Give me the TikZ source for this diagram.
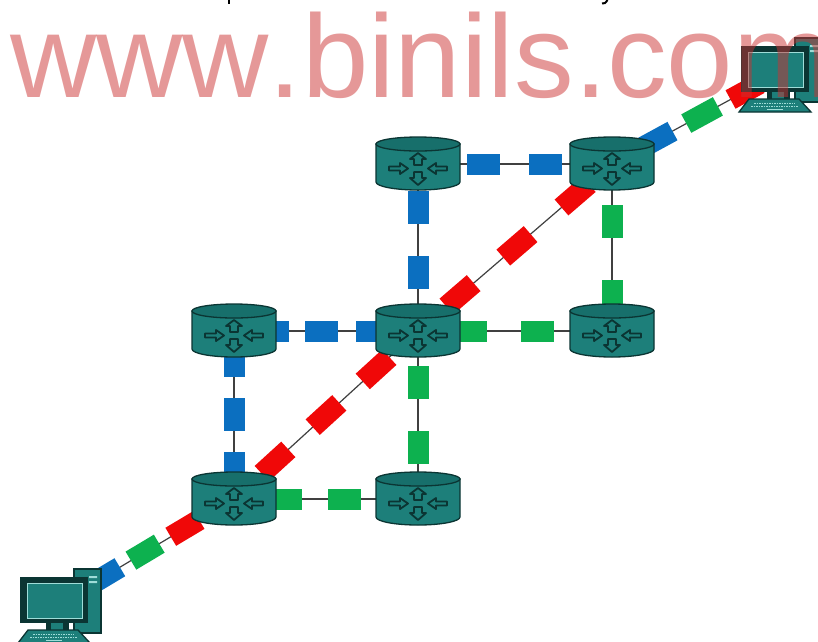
\documentclass[tikz,border=0pt]{standalone}
\usepackage{fontspec}
\setmainfont[Kerning=Off]{Liberation Sans}
\definecolor{tealbody}{HTML}{1D7F7A}
\definecolor{tealtop}{HTML}{176F6B}
\definecolor{tealdark}{HTML}{0B3533}
\definecolor{screenedge}{HTML}{9FDDD8}
\definecolor{linkblue}{HTML}{0B6FC0}
\definecolor{linkgreen}{HTML}{0DB14F}
\definecolor{linkred}{HTML}{F00808}
\definecolor{wmred}{rgb}{.8,.2,.2}
\tikzset{
  x=1pt,y=-1pt,
  anchorbox/.style={inner sep=0pt,minimum width=85pt,minimum height=52pt},
  link/.style={draw=black!75,line width=1.2pt},
  bar/.style={inner sep=0pt,minimum width=33pt,minimum height=21pt,sloped},
  bluebar/.style={bar,fill=linkblue},
  greenbar/.style={bar,fill=linkgreen},
  redbar/.style={bar,fill=linkred,minimum width=36pt},
  outl/.style={draw=tealdark,line width=1.3pt},
  arrowmark/.style={draw=tealdark,line width=1.8pt,fill=tealbody,line join=round},
}
\newcommand{\routericon}[1]{%
  \begin{scope}[shift={(#1.center)}]
    \path[outl,fill=tealbody] (-42,-20) -- (-42,18) arc[start angle=180,end angle=0,x radius=42,y radius=8] -- (42,-20) -- cycle;
    \path[outl,fill=tealtop] (0,-20) ellipse[x radius=42,y radius=7];
    % up
    \path[arrowmark] (-4,1) -- (-4,-5) -- (-8,-5) -- (0,-11) -- (8,-5) -- (4,-5) -- (4,1) -- cycle;
    % down
    \path[arrowmark] (-4,8) -- (-4,14) -- (-8,14) -- (0,21) -- (8,14) -- (4,14) -- (4,8) -- cycle;
    % left, pointing in
    \path[arrowmark] (-29,2.5) -- (-18,2.5) -- (-18,-1) -- (-10,4.5) -- (-18,10) -- (-18,6.5) -- (-29,6.5) -- cycle;
    % right, pointing in
    \path[arrowmark] (29,2.5) -- (18,2.5) -- (18,-1) -- (10,4.5) -- (18,10) -- (18,6.5) -- (29,6.5) -- cycle;
  \end{scope}}
\newcommand{\pcicon}[1]{%
  \begin{scope}[shift={(#1.center)}]
    % tower
    \path[outl,fill=tealbody] (14,-34) -- (41,-34) -- (41,30) -- (14,30) -- cycle;
    \path[fill=screenedge] (29,-27) rectangle (37,-25) (29,-22) rectangle (37,-20);
    % stand
    \path[fill=tealdark] (-14,19) rectangle (9,27);
    \path[fill=tealbody] (-9,19) rectangle (3,27);
    % monitor
    \path[draw=tealdark,line width=1.4pt,fill=tealdark] (-39,-25) rectangle (27,19);
    \path[draw=screenedge,line width=1pt,fill=tealbody] (-33,-20) rectangle (22,15);
    % keyboard
    \path[outl,fill=tealbody] (-32,27) -- (18,27) -- (30,40) -- (-42,40) -- cycle;
    \path[draw=screenedge,line width=1pt,dash pattern=on 1.5pt off 1pt] (-27,31) -- (14,31);
    \path[draw=screenedge,line width=1pt,dash pattern=on 1.5pt off 1pt] (-30,34) -- (17,34);
    \path[draw=screenedge,line width=1pt] (-14,37.5) -- (2,37.5);
  \end{scope}}
\begin{document}
\begin{tikzpicture}
\useasboundingbox (0,0) rectangle (818,641);
\clip (0,0) rectangle (818,641);
\fill[white] (0,0) rectangle (818,641);
% descenders left by the cropped line of text above the picture
\fill[black] (227.5,0) rectangle (229.5,4);
\draw[black,line width=2pt] (602,3.5) .. controls (605,3.5) .. (607.5,0);
% named places
\node[anchorbox] (r1) at (418,164) {};
\node[anchorbox] (r2) at (612,164) {};
\node[anchorbox] (r3) at (234,331) {};
\node[anchorbox] (r4) at (418,331) {};
\node[anchorbox] (r5) at (612,331) {};
\node[anchorbox] (r6) at (234,499) {};
\node[anchorbox] (r7) at (418,499) {};
\node[inner sep=0pt,minimum size=60pt] (pc1) at (60,603) {};
\node[inner sep=0pt,minimum size=60pt] (pc2) at (781,72) {};
% connectors
\draw[link] (r1.center) -- node[pos=.34,bluebar]{} node[pos=.655,bluebar]{} (r2.center);
\draw[link] (r1.center) -- node[pos=.263,bluebar]{} node[pos=.647,bluebar]{} (r4.center);
\draw[link] (r2.center) -- node[pos=.347,greenbar]{} node[pos=.793,greenbar]{} (r5.center);
\draw[link] (r4.center) -- node[pos=.271,greenbar]{} node[pos=.616,greenbar]{} (r5.center);
\draw[link] (r3.center) -- node[pos=.209,bluebar]{} node[pos=.478,bluebar]{} node[pos=.753,bluebar]{} (r4.center);
\draw[link] (r3.center) -- node[pos=.176,bluebar]{} node[pos=.494,bluebar]{} node[pos=.818,bluebar]{} (r6.center);
\draw[link] (r6.center) -- node[pos=.28,greenbar]{} node[pos=.6,greenbar]{} (r7.center);
\draw[link] (r4.center) -- node[pos=.309,greenbar]{} node[pos=.696,greenbar]{} (r7.center);
\draw[link] (r6.center) -- node[pos=.223,redbar]{} node[pos=.5,redbar]{} node[pos=.772,redbar]{} (r4.center);
\draw[link] (r4.center) -- node[pos=.2165,redbar]{} node[pos=.51,redbar]{} node[pos=.81,redbar]{} (r2.center);
\draw[link] (pc1.center) -- node[pos=.27,bluebar,minimum width=30pt]{} node[pos=.489,greenbar]{} node[pos=.718,redbar,minimum width=33pt]{} (r6.center);
\draw[link] (r2.center) -- node[pos=.272,bluebar]{} node[pos=.533,greenbar,minimum width=36pt]{} node[pos=.787,redbar,minimum width=33pt]{} (pc2.center);
% icons
\routericon{r1}\routericon{r2}\routericon{r3}\routericon{r4}\routericon{r5}\routericon{r6}\routericon{r7}
\pcicon{pc1}\pcicon{pc2}
% watermark
\node[anchor=base west,inner sep=0pt,text=wmred,text opacity=.5,xscale=1.012,font=\fontsize{118pt}{118pt}\selectfont] (wm) at (10,97) {www.binils.com};
\end{tikzpicture}
\end{document}
